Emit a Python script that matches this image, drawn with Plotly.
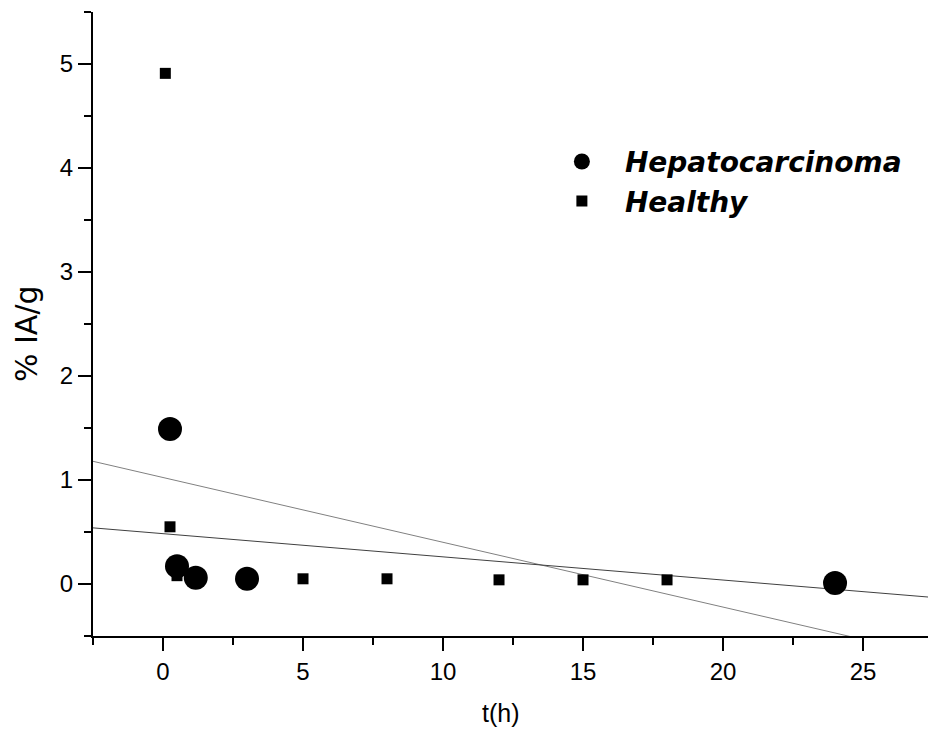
import plotly.graph_objects as go

# Data
hep_t = [0.25, 0.5, 1.17, 3.0, 24.0]
hep_y = [1.49, 0.17, 0.06, 0.05, 0.01]
healthy_t = [0.083, 0.25, 0.5, 5.0, 8.0, 12.0, 15.0, 18.0]
healthy_y = [4.91, 0.55, 0.08, 0.05, 0.05, 0.04, 0.04, 0.04]

# Linear trend lines (intercept, slope)
line1 = (1.024, -0.0623)
line2 = (0.484, -0.0223)
line_x = [-2.5, 27.5]

FONT = "Liberation Sans, Arial, sans-serif"
WIDE = "DejaVu Sans, Verdana, sans-serif"

fig = go.Figure()

fig.add_trace(go.Scatter(
    x=line_x, y=[line1[0] + line1[1] * v for v in line_x],
    mode="lines", line=dict(color="#808080", width=1), showlegend=False, hoverinfo="skip"))
fig.add_trace(go.Scatter(
    x=line_x, y=[line2[0] + line2[1] * v for v in line_x],
    mode="lines", line=dict(color="#404040", width=1), showlegend=False, hoverinfo="skip"))

fig.add_trace(go.Scatter(
    x=hep_t, y=hep_y, mode="markers", name="Hepatocarcinoma",
    marker=dict(symbol="circle", size=24, color="black"), legendgroup="a"))
fig.add_trace(go.Scatter(
    x=healthy_t, y=healthy_y, mode="markers", name="Healthy",
    marker=dict(symbol="square", size=11, color="black"), legendgroup="b"))

fig.update_layout(
    width=928, height=730,
    margin=dict(l=93, r=0, t=12, b=94),
    paper_bgcolor="white", plot_bgcolor="white",
    font=dict(family=FONT, color="black", size=24),
    legend=dict(
        x=0.534, y=0.80, xanchor="left", yanchor="top",
        font=dict(family=WIDE, size=28, style="italic", weight="bold", color="black"),
        bgcolor="rgba(0,0,0,0)", tracegroupgap=0, itemwidth=76,
    ),
    xaxis=dict(
        range=[-2.5, 27.32], showgrid=False, zeroline=False,
        showline=True, linecolor="black", linewidth=2,
        ticks="outside", ticklen=13, tickwidth=2, tickcolor="black",
        tickvals=[0, 5, 10, 15, 20, 25],
        minor=dict(tickvals=[-2.5, 2.5, 7.5, 12.5, 17.5, 22.5], ticks="outside", ticklen=7, tickwidth=2, tickcolor="black"),
        tickfont=dict(size=24),
    ),
    yaxis=dict(
        range=[-0.5, 5.5], showgrid=False, zeroline=False,
        showline=True, linecolor="black", linewidth=2,
        ticks="outside", ticklen=13, tickwidth=2, tickcolor="black",
        tickvals=[0, 1, 2, 3, 4, 5],
        minor=dict(tickvals=[-0.5, 0.5, 1.5, 2.5, 3.5, 4.5, 5.5], ticks="outside", ticklen=7, tickwidth=2, tickcolor="black"),
        tickfont=dict(size=24),
    ),
    annotations=[
        dict(text="t(h)", xref="paper", yref="paper", x=0.4886, y=-0.1234,
             xanchor="center", yanchor="middle", showarrow=False,
             font=dict(family=FONT, size=25, color="black")),
        dict(text="% IA/g", xref="paper", yref="paper", x=-0.079, y=0.484,
             xanchor="center", yanchor="middle", showarrow=False, textangle=-90,
             font=dict(family=WIDE, size=30, color="black")),
    ],
)

fig.write_html(
    "out.html",
    config={"displayModeBar": False},
    post_script="document.body.style.margin='0';document.body.style.overflow='hidden';",
)
